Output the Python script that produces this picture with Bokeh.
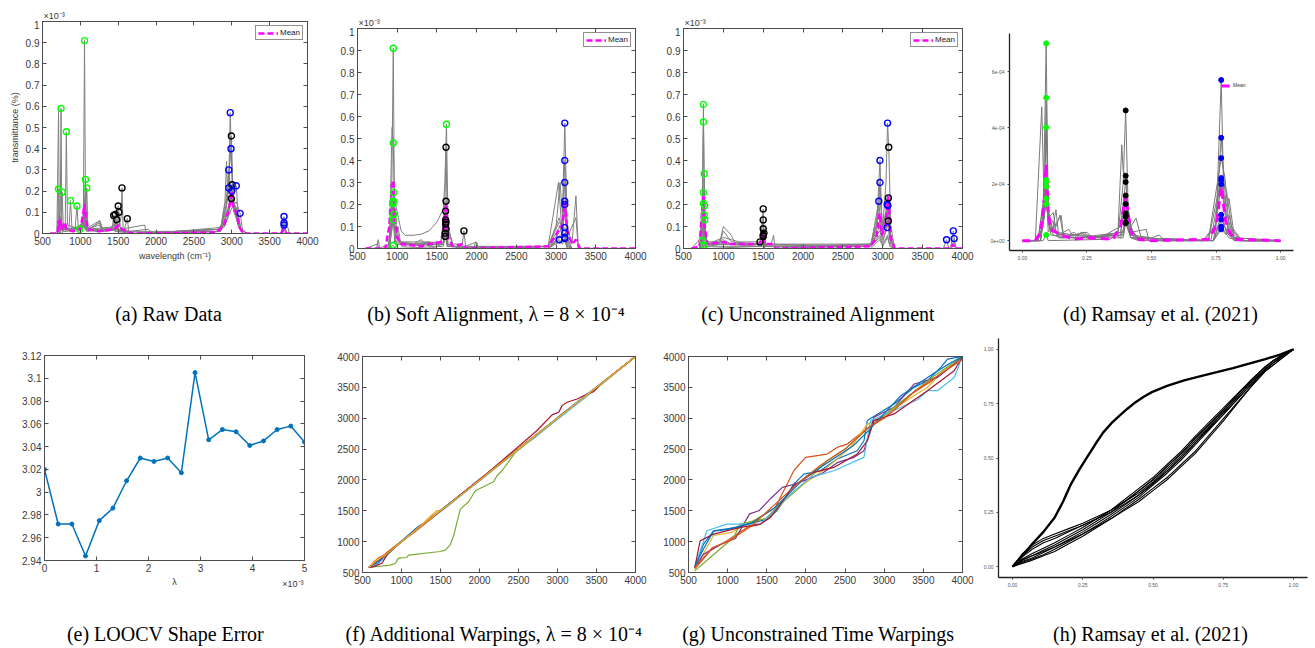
from bokeh.plotting import figure
from bokeh.layouts import column, row
from bokeh.models import (Range1d, FixedTicker, NumeralTickFormatter, LinearAxis,
                          Label, Legend, LegendItem)
from bokeh.embed import file_html
from bokeh.resources import INLINE

# ---------------- data ----------------
# (a) raw spectra, y in units of 1e-3
A_C1 = [(600,0),(1000,0),(1040,0.1),(1055,0.91),(1068,0.12),(1100,0.02),(1300,0.02),(1420,0.02),(1440,0.085),(1455,0.01),(1700,0),(2850,0.02),(2920,0.1),(2960,0.25),(2980,0.57),(3010,0.15),(3060,0.12),(3100,0.03),(3150,0),(4000,0)]
A_C2 = [(600,0),(690,0),(712,0.58),(722,0.05),(735,0.1),(745,0.59),(755,0.05),(800,0.02),(1000,0.03),(1050,0.1),(1070,0.02),(1250,0.06),(1300,0.02),(1440,0.03),(1460,0.09),(1475,0.02),(1700,0),(2850,0.01),(2940,0.2),(2990,0.40),(3030,0.1),(3150,0),(3650,0),(3690,0.03),(3720,0),(4000,0)]
A_C3 = [(600,0),(760,0),(780,0.05),(800,0.02),(815,0.48),(830,0.04),(1000,0.02),(1050,0.08),(1080,0.02),(1400,0.03),(1480,0.05),(1500,0.13),(1520,0.03),(1700,0),(2850,0.02),(2910,0.15),(2930,0.34),(2945,0.2),(2960,0.30),(3000,0.15),(3050,0.1),(3100,0.03),(3200,0),(4000,0)]
A_C4 = [(600,0),(720,0),(740,0.08),(760,0.02),(1040,0.03),(1068,0.255),(1085,0.03),(1200,0.01),(1500,0.02),(1540,0.08),(1550,0.215),(1565,0.02),(1700,0),(2850,0.02),(2920,0.12),(2960,0.215),(3000,0.15),(3050,0.12),(3100,0.03),(3200,0),(4000,0)]
A_C5 = [(600,0),(720,0),(740,0.06),(760,0.02),(1050,0.03),(1085,0.215),(1100,0.02),(1250,0.05),(1300,0.01),(1490,0.03),(1510,0.1),(1530,0.02),(1850,0.04),(1870,0),(2850,0.01),(2940,0.1),(3000,0.15),(3060,0.225),(3080,0.1),(3120,0.02),(3200,0),(4000,0)]
A_C6 = [(600,0),(700,0),(712,0.21),(725,0.02),(800,0.01),(1000,0.02),(1050,0.05),(1080,0.01),(1400,0.02),(1460,0.05),(1500,0.02),(1700,0),(2850,0.02),(2940,0.15),(2995,0.46),(3020,0.15),(3080,0.1),(3120,0.02),(3200,0),(3650,0),(3690,0.08),(3720,0),(4000,0)]
A_C7 = [(600,0),(740,0),(760,0.195),(775,0.03),(900,0.02),(1040,0.05),(1060,0.1),(1080,0.03),(1200,0.01),(1460,0.02),(1480,0.065),(1500,0.02),(1700,0),(2800,0.01),(2900,0.06),(2950,0.12),(3000,0.20),(3040,0.12),(3080,0.05),(3150,0),(4000,0)]
A_C8 = [(600,0),(720,0),(740,0.05),(760,0.02),(850,0.02),(870,0.155),(890,0.02),(1000,0.02),(1060,0.12),(1090,0.02),(1250,0.04),(1300,0.01),(1600,0.02),(1640,0),(2850,0.01),(2950,0.1),(3005,0.23),(3040,0.12),(3080,0.04),(3150,0),(3650,0),(3690,0.05),(3720,0),(4000,0)]
A_C9 = [(600,0),(700,0),(720,0.1),(740,0.02),(930,0.02),(955,0.13),(975,0.02),(1040,0.05),(1060,0.02),(1580,0.02),(1620,0.07),(1640,0.01),(1900,0.02),(1950,0),(2900,0.03),(3000,0.12),(3060,0.15),(3110,0.095),(3140,0.02),(3200,0),(4000,0)]
A_C10 = [(600,0),(720,0),(750,0.04),(780,0.01),(990,0.02),(1050,0.04),(1100,0.01),(1260,0.06),(1290,0.02),(1450,0.02),(1480,0.03),(1500,0.01),(2850,0.01),(2950,0.08),(2995,0.165),(3030,0.1),(3080,0.05),(3150,0),(3650,0),(3690,0.04),(3740,0.03),(3760,0),(4000,0)]
A_MEAN = [(600,0),(700,0),(712,0.06),(725,0.03),(735,0.07),(750,0.02),(800,0.05),(815,0.02),(900,0.01),(1000,0.02),(1040,0.1),(1055,0.14),(1070,0.08),(1100,0.02),(1250,0.01),(1440,0.02),(1480,0.03),(1500,0.04),(1550,0.02),(1600,0.01),(1700,0),(2800,0.005),(2900,0.04),(2950,0.1),(2980,0.15),(3000,0.2),(3020,0.12),(3060,0.1),(3100,0.03),(3150,0),(3650,0),(3690,0.02),(3720,0),(4000,0)]
A_GX = [1055,745,815,1068,1085,712,760,870,955,990]
A_GY = [0.91,0.59,0.48,0.255,0.215,0.21,0.195,0.155,0.13,0.02]
A_KX = [1440,1460,1500,1550,1510,2995,1480,3005,1620,2995]
A_KY = [0.085,0.09,0.13,0.215,0.1,0.46,0.065,0.23,0.07,0.165]
A_BX = [2980,2990,2960,2960,3060,3690,3000,3690,3110,3690]
A_BY = [0.57,0.40,0.30,0.215,0.225,0.08,0.20,0.05,0.095,0.04]

# (b) soft alignment
B_C1 = [(600,0),(900,0),(930,0.2),(950,0.91),(965,0.2),(1000,0.05),(1050,0.02),(1550,0.02),(1600,0.2),(1615,0.46),(1630,0.1),(1700,0.01),(2900,0.01),(3000,0.1),(3050,0.3),(3080,0.15),(3110,0.57),(3140,0.1),(3200,0.02),(3250,0.24),(3280,0),(4000,0)]
B_C2 = [(600,0),(740,0),(760,0.04),(780,0),(900,0),(935,0.55),(950,0.48),(970,0.1),(1000,0.1),(1020,0.03),(1100,0.02),(1550,0.03),(1615,0.215),(1640,0.02),(1800,0),(2900,0.01),(3040,0.12),(3080,0.1),(3110,0.40),(3140,0.05),(3250,0.14),(3280,0),(4000,0)]
B_C3 = [(600,0),(880,0),(920,0.1),(950,0.22),(980,0.2),(1050,0.08),(1100,0.06),(1200,0.06),(1300,0.065),(1400,0.08),(1500,0.12),(1580,0.18),(1600,0.3),(1620,0.565),(1640,0.1),(1700,0.02),(1820,0.02),(1840,0.08),(1860,0.01),(2000,0.03),(2020,0),(2900,0.01),(3030,0.3),(3070,0.1),(3110,0.30),(3140,0.05),(3200,0),(4000,0)]
B_C4 = [(600,0),(880,0),(930,0.1),(955,0.255),(975,0.05),(1010,0.1),(1040,0.03),(1200,0.02),(1300,0.04),(1400,0.01),(1580,0.03),(1610,0.17),(1630,0.02),(1800,0),(2900,0.01),(3040,0.14),(3080,0.08),(3110,0.215),(3140,0.03),(3200,0),(4000,0)]
B_C5 = [(600,0),(750,0.02),(770,0),(900,0.02),(950,0.215),(970,0.05),(1050,0.03),(1400,0.03),(1420,0),(1580,0.02),(1610,0.13),(1630,0.02),(1800,0),(2900,0.01),(3050,0.1),(3080,0.05),(3110,0.20),(3140,0.04),(3200,0),(4000,0)]
B_C6 = [(600,0),(900,0),(955,0.21),(975,0.03),(1300,0.02),(1400,0.03),(1580,0.02),(1615,0.12),(1635,0.01),(2900,0),(3050,0.08),(3110,0.095),(3140,0.02),(3200,0),(4000,0)]
B_C7 = [(600,0),(900,0),(945,0.205),(970,0.02),(1020,0.05),(1060,0.01),(1580,0.02),(1610,0.11),(1630,0.01),(2900,0),(3050,0.06),(3110,0.07),(3140,0.01),(3200,0),(4000,0)]
B_C8 = [(600,0),(900,0),(955,0.155),(975,0.02),(1580,0.02),(1615,0.09),(1635,0.01),(1960,0),(1990,0.03),(2010,0),(2900,0),(3050,0.05),(3110,0.05),(3140,0.01),(3200,0),(4000,0)]
B_C9 = [(600,0),(900,0),(950,0.13),(975,0.02),(1580,0.02),(1605,0.07),(1630,0.01),(2900,0),(3040,0.04),(3080,0.02),(3110,0.04),(3140,0),(4000,0)]
B_C10 = [(600,0),(900,0),(950,0.015),(975,0),(1580,0.01),(1605,0.055),(1630,0.01),(2900,0),(3110,0.045),(3140,0),(4000,0)]
B_MEAN = [(600,0),(850,0),(900,0.1),(930,0.28),(950,0.31),(970,0.15),(1000,0.05),(1050,0.02),(1300,0.01),(1400,0.02),(1550,0.03),(1590,0.1),(1615,0.2),(1640,0.05),(1700,0.01),(1840,0.02),(1860,0),(2900,0.01),(3000,0.06),(3050,0.1),(3080,0.1),(3110,0.21),(3140,0.08),(3200,0.02),(3250,0.04),(3300,0),(4000,0)]
B_GX = [950,950,1620,955,950,955,945,955,950,950]
B_GY = [0.91,0.48,0.565,0.255,0.215,0.21,0.205,0.155,0.13,0.015]
B_KX = [1615,1615,1840,1610,1610,1615,1610,1615,1605,1605]
B_KY = [0.46,0.215,0.08,0.17,0.13,0.12,0.11,0.09,0.07,0.055]
B_BX = [3110,3110,3110,3110,3110,3110,3110,3110,3040,3110]
B_BY = [0.57,0.40,0.30,0.215,0.20,0.095,0.07,0.05,0.04,0.045]

# (c) unconstrained alignment
C_C1 = [(600,0),(700,0),(735,0.2),(750,0.655),(765,0.1),(800,0.02),(950,0.02),(1000,0.1),(1100,0.06),(1150,0.02),(1450,0.02),(1500,0.04),(1550,0.01),(2850,0.02),(2920,0.1),(2965,0.25),(3000,0.1),(3040,0.3),(3060,0.57),(3075,0.46),(3100,0.1),(3150,0),(4000,0)]
C_C2 = [(600,0),(700,0),(735,0.15),(750,0.575),(765,0.1),(800,0.02),(950,0.02),(1000,0.08),(1100,0.03),(1460,0.02),(1500,0.18),(1515,0.02),(1600,0.02),(1630,0.06),(1650,0),(2850,0.02),(2930,0.15),(2965,0.40),(2990,0.1),(3040,0.15),(3070,0.2),(3100,0.05),(3150,0),(4000,0)]
C_C3 = [(600,0),(700,0.04),(720,0),(745,0.1),(760,0.34),(775,0.05),(800,0.02),(1000,0.05),(1100,0.04),(1200,0.03),(1460,0.03),(1500,0.13),(1520,0.02),(2850,0.02),(2930,0.12),(2965,0.30),(2990,0.08),(3040,0.1),(3070,0.15),(3100,0.03),(3150,0),(4000,0)]
C_C4 = [(600,0),(720,0),(750,0.255),(770,0.03),(900,0.03),(1000,0.04),(1100,0.02),(1460,0.02),(1500,0.09),(1520,0.02),(2850,0.01),(2950,0.215),(2980,0.08),(3040,0.1),(3070,0.15),(3100,0.03),(3150,0),(4000,0)]
C_C5 = [(600,0),(720,0),(750,0.205),(770,0.02),(1000,0.03),(1100,0.02),(1480,0.02),(1510,0.07),(1530,0.01),(2850,0.01),(2950,0.12),(2980,0.06),(3055,0.20),(3080,0.05),(3150,0),(4000,0)]
C_C6 = [(600,0),(740,0),(765,0.195),(780,0.02),(1000,0.02),(1480,0.02),(1500,0.06),(1520,0.01),(2850,0.01),(2960,0.1),(2990,0.05),(3065,0.195),(3090,0.04),(3150,0),(4000,0)]
C_C7 = [(600,0),(740,0),(760,0.15),(780,0.02),(1000,0.02),(1460,0.02),(1500,0.05),(1520,0.01),(2850,0.01),(2960,0.08),(3000,0.04),(3055,0.095),(3070,0.23),(3095,0.04),(3150,0),(4000,0)]
C_C8 = [(600,0),(740,0),(765,0.13),(780,0.01),(1000,0.02),(1460,0.01),(1500,0.04),(1520,0),(2850,0.01),(2960,0.06),(3000,0.03),(3070,0.125),(3095,0.02),(3150,0),(3760,0),(3800,0.04),(3830,0),(4000,0)]
C_C9 = [(600,0),(720,0),(740,0.035),(770,0.01),(1000,0.01),(1440,0.01),(1460,0.03),(1480,0.01),(2850,0.01),(2960,0.05),(3000,0.02),(3060,0.06),(3090,0.01),(3150,0),(3850,0),(3885,0.08),(3910,0),(4000,0)]
C_C10 = [(600,0),(740,0),(760,0.015),(780,0),(1480,0.01),(1500,0.055),(1520,0),(1950,0),(1970,0.02),(1990,0),(2850,0),(2960,0.04),(3000,0.01),(3060,0.05),(3090,0.01),(3150,0),(3860,0),(3895,0.045),(3920,0),(4000,0)]
C_MEAN = [(600,0),(700,0.01),(740,0.2),(750,0.25),(765,0.1),(800,0.02),(1000,0.03),(1100,0.02),(1450,0.02),(1480,0.04),(1500,0.07),(1520,0.02),(1600,0.02),(1650,0),(2850,0.01),(2920,0.05),(2960,0.16),(2990,0.06),(3030,0.1),(3070,0.24),(3100,0.05),(3150,0),(3850,0),(3880,0.02),(3900,0),(4000,0)]
C_GX = [750,750,760,750,750,765,760,765,740,760]
C_GY = [0.655,0.575,0.34,0.255,0.205,0.195,0.15,0.13,0.035,0.015]
C_KX = [3075,1500,1500,1500,1510,1500,3070,3070,1460,1500]
C_KY = [0.46,0.18,0.13,0.09,0.07,0.06,0.23,0.125,0.03,0.055]
C_BX = [3060,2965,2965,2950,3055,3065,3055,3800,3885,3895]
C_BY = [0.57,0.40,0.30,0.215,0.20,0.195,0.095,0.04,0.08,0.045]

# (d) Ramsay et al., x in [0,1], y in units of 1e-4
D_C1 = [(0,0),(0.06,0),(0.08,0.5),(0.092,7.0),(0.1,1.0),(0.12,0.3),(0.2,0.1),(0.37,0.2),(0.39,2.0),(0.40,4.62),(0.41,1.0),(0.43,0.1),(0.7,0),(0.75,0.5),(0.77,5.7),(0.78,1.5),(0.8,0.2),(0.85,0),(1,0)]
D_C2 = [(0,0),(0.05,0),(0.075,4.75),(0.085,1.0),(0.092,5.07),(0.1,0.8),(0.12,1.0),(0.13,0.3),(0.2,0.2),(0.3,0.1),(0.37,0.3),(0.385,3.4),(0.39,2.5),(0.40,2.3),(0.41,0.5),(0.45,0.1),(0.7,0),(0.75,0.6),(0.77,3.65),(0.79,1.0),(0.82,0),(1,0)]
D_C3 = [(0,0),(0.06,0),(0.085,1.5),(0.092,4.02),(0.1,1.2),(0.115,0.3),(0.13,1.1),(0.14,0.2),(0.25,0.2),(0.3,0.1),(0.38,0.5),(0.40,2.08),(0.42,0.3),(0.48,0.4),(0.49,0),(0.72,0),(0.77,2.93),(0.785,2.2),(0.8,0.5),(0.85,0),(1,0)]
D_C4 = [(0,0),(0.06,0),(0.092,2.15),(0.1,0.9),(0.13,0.5),(0.145,0.9),(0.16,0.1),(0.2,0.3),(0.22,0.1),(0.38,0.2),(0.40,1.6),(0.42,0.5),(0.44,0.8),(0.46,0.1),(0.72,0),(0.77,2.22),(0.79,1.8),(0.81,0.5),(0.85,0),(1,0)]
D_C5 = [(0,0),(0.06,0),(0.085,0.8),(0.092,2.12),(0.1,0.6),(0.12,0.2),(0.15,0.1),(0.25,0.3),(0.27,0.1),(0.38,0.3),(0.40,1.3),(0.42,0.2),(0.5,0.1),(0.53,0.2),(0.55,0),(0.73,0),(0.77,2.15),(0.79,1.2),(0.8,1.5),(0.82,0.2),(0.86,0),(1,0)]
D_C6 = [(0,0),(0.07,0),(0.092,1.92),(0.105,0.4),(0.14,0.2),(0.18,0.4),(0.2,0.1),(0.3,0.2),(0.39,0.3),(0.40,0.97),(0.42,0.2),(0.5,0),(0.74,0),(0.77,2.0),(0.79,0.6),(0.82,0.1),(1,0)]
D_C7 = [(0,0),(0.07,0),(0.092,1.5),(0.11,0.3),(0.15,0.9),(0.16,0.1),(0.24,0.3),(0.26,0.1),(0.39,0.3),(0.40,0.9),(0.43,0.3),(0.44,0.1),(0.74,0),(0.77,0.92),(0.79,0.3),(0.82,0),(1,0)]
D_C8 = [(0,0),(0.07,0),(0.092,1.3),(0.11,0.2),(0.2,0.1),(0.23,0.3),(0.25,0.1),(0.39,0.2),(0.40,0.85),(0.42,0.1),(0.74,0),(0.77,0.75),(0.8,0.2),(0.84,0),(1,0)]
D_C9 = [(0,0),(0.08,0),(0.092,0.2),(0.1,0),(0.34,0.05),(0.36,0.2),(0.38,0.1),(0.40,0.65),(0.42,0.1),(0.45,0),(0.74,0),(0.77,0.5),(0.8,0.1),(0.84,0),(1,0)]
D_C10 = [(0,0),(0.07,0),(0.092,2.1),(0.1,0.3),(0.12,0.5),(0.14,0.1),(0.39,0.1),(0.40,0.62),(0.42,0.1),(0.74,0),(0.77,0.4),(0.79,0.2),(0.8,0.9),(0.82,0.1),(1,0)]
D_MEAN = [(0,0),(0.05,0),(0.07,0.3),(0.085,1.5),(0.092,2.7),(0.1,1.0),(0.11,0.4),(0.13,0.3),(0.15,0.2),(0.2,0.05),(0.25,0.1),(0.35,0.05),(0.38,0.5),(0.40,1.6),(0.42,0.3),(0.45,0.05),(0.5,0),(0.72,0.05),(0.75,0.5),(0.77,1.9),(0.79,0.5),(0.82,0.05),(1,0)]
D_GX = [0.092]*10
D_GY = [7.0,5.07,4.02,2.15,2.12,1.92,1.5,1.3,0.2,2.1]
D_KX = [0.40]*10
D_KY = [4.62,2.3,2.08,1.6,1.3,0.97,0.9,0.85,0.65,0.62]
D_BX = [0.77]*10
D_BY = [5.7,3.65,2.93,2.22,2.15,2.0,0.92,0.75,0.5,0.4]
D_YTICK_LABELS = {0: "0e+00", 2: "2e-04", 4: "4e-04", 6: "6e-04"}

# (e) LOOCV shape error, lambda in units of 1e-3
LAMBDA = [0,0.263,0.526,0.789,1.053,1.316,1.579,1.842,2.105,2.368,2.632,2.895,3.158,3.421,3.684,3.947,4.211,4.474,4.737,5.0]
LOOCV = [3.020,2.972,2.972,2.944,2.975,2.986,3.010,3.030,3.027,3.030,3.017,3.105,3.046,3.055,3.053,3.041,3.045,3.055,3.058,3.044]

# matlab default colour order
MC = ["#0072BD", "#D95319", "#EDB120", "#7E2F8E", "#77AC30", "#4DBEEE", "#A2142F"]

# (f) additional warpings
F_W = [
 [(580,580),(640,620),(700,680),(760,740),(820,820),(1000,1010),(1200,1230),(1400,1400),(1600,1600),(2000,2000),(2400,2420),(2700,2680),(3000,3000),(3500,3500),(4000,4000)],
 [(580,580),(650,680),(720,750),(780,780),(850,860),(1000,1000),(1400,1420),(1500,1500),(2000,2000),(2500,2500),(3000,3000),(3500,3500),(4000,4000)],
 [(580,580),(640,650),(700,720),(780,760),(850,860),(1200,1200),(1400,1450),(1450,1500),(1500,1500),(2000,2000),(2500,2480),(3000,3000),(3500,3480),(4000,4000)],
 [(580,580),(700,650),(800,800),(1500,1500),(2000,2010),(2500,2500),(3000,2990),(4000,4000)],
 [(577,581),(855,619),(919,646),(962,732),(1069,743),(1090,781),(1497,840),(1561,862),(1625,949),(1668,1095),(1754,1527),(1861,1646),(1946,1824),(2182,1970),(2224,2068),(2289,2149),(2481,2484),(3000,3000),(3500,3500),(4000,4000)],
 [(580,580),(700,640),(800,760),(1000,1000),(1600,1580),(2500,2490),(2900,2880),(3300,3280),(4000,4000)],
 [(580,580),(650,600),(750,650),(820,800),(1000,1000),(1500,1500),(2000,2000),(2738,2801),(2930,3054),(3016,3097),(3059,3204),(3123,3258),(3251,3312),(3380,3392),(3465,3430),(3550,3550),(4000,4000)],
 [(580,580),(700,700),(1000,1000),(1500,1510),(2000,1990),(2500,2500),(3000,3010),(4000,4000)],
 [(580,580),(760,770),(1200,1190),(1700,1700),(2200,2200),(2600,2610),(3200,3200),(4000,4000)],
 [(580,580),(680,700),(800,790),(1300,1310),(1800,1790),(2300,2300),(2800,2800),(3600,3600),(4000,4000)],
]

# (g) unconstrained time warpings
G_W = [
 [(580,580),(692,959),(820,1176),(1119,1230),(1503,1365),(1631,1500),(1845,1932),(1973,2095),(2186,2149),(2399,2338),(2655,2473),(2741,2635),(2784,2962),(3125,3231),(3381,3500),(3552,3608),(3723,3823),(3808,3957),(4000,4000)],
 [(580,554),(777,851),(991,1014),(1247,1230),(1418,1284),(1588,1500),(1845,2149),(1994,2365),(2271,2419),(2399,2527),(2527,2581),(2800,2850),(3000,3000),(3300,3350),(3600,3600),(3800,3800),(4000,4000)],
 [(580,554),(820,1100),(1050,1150),(1204,1257),(1631,1554),(1973,1932),(2271,2203),(2570,2527),(2784,2900),(3000,3050),(3300,3300),(3552,3500),(3700,3700),(3850,3850),(4000,4000)],
 [(580,581),(692,797),(900,950),(1100,1050),(1280,1450),(1400,1500),(1550,1700),(1700,1880),(1850,1930),(2000,2000),(2200,2100),(2400,2280),(2612,2365),(2741,2473),(2869,3016),(3125,3177),(3381,3554),(3680,3661),(3894,3876),(4000,4000)],
 [(580,527),(777,743),(1076,1068),(1161,1284),(1546,1392),(1759,1716),(2058,2041),(2271,2311),(2527,2527),(2800,2850),(3200,3250),(3600,3650),(4000,4000)],
 [(580,581),(735,1176),(991,1284),(1418,1284),(1759,1716),(2058,2041),(2356,2149),(2741,2365),(2826,2962),(3125,3124),(3424,3300),(3552,3446),(3680,3446),(3894,3661),(4000,4000)],
 [(580,581),(649,1014),(820,1122),(1161,1230),(1418,1284),(1546,1392),(1845,1905),(2100,2122),(2356,2203),(2655,2419),(2784,2635),(2869,2962),(3125,3070),(3552,3446),(3894,3769),(4000,4000)],
 [(580,600),(700,900),(820,1170),(1000,1200),(1300,1300),(1600,1550),(2000,2050),(2300,2300),(2600,2550),(2800,2800),(3200,3350),(3600,3700),(3850,3900),(4000,4000)],
 [(580,580),(800,900),(1000,1000),(1300,1250),(1600,1600),(1900,1950),(2200,2250),(2500,2500),(2800,2850),(3100,3100),(3400,3450),(3700,3700),(4000,3950)],
]

# (h) Ramsay warping functions
H_UP_X = [0,0.035,0.069,0.11,0.15,0.18,0.208,0.237,0.265,0.294,0.323,0.352,0.381,0.41,0.438,0.467,0.496,0.55,0.611,0.67,0.727,0.785,0.842,0.9,0.95,1]
H_UP_Y = [0,0.05,0.103,0.16,0.226,0.30,0.38,0.445,0.503,0.562,0.618,0.66,0.695,0.728,0.757,0.782,0.803,0.832,0.857,0.877,0.895,0.914,0.934,0.955,0.975,1]
H_X = [0,0.035,0.07,0.11,0.15,0.2,0.25,0.3,0.35,0.4,0.45,0.5,0.55,0.6,0.65,0.7,0.75,0.8,0.85,0.9,0.93,0.97,1]
H_LOW = [
 [0,0.06,0.1,0.13,0.15,0.175,0.2,0.23,0.26,0.3,0.34,0.39,0.45,0.51,0.58,0.645,0.71,0.78,0.85,0.91,0.94,0.975,1],
 [0,0.05,0.09,0.12,0.14,0.165,0.19,0.22,0.25,0.29,0.33,0.38,0.44,0.5,0.57,0.64,0.71,0.78,0.85,0.91,0.94,0.975,1],
 [0,0.045,0.08,0.11,0.13,0.16,0.19,0.22,0.26,0.3,0.35,0.4,0.46,0.52,0.59,0.655,0.72,0.79,0.86,0.92,0.95,0.98,1],
 [0,0.035,0.06,0.085,0.11,0.145,0.18,0.22,0.26,0.31,0.36,0.41,0.47,0.53,0.60,0.665,0.73,0.795,0.86,0.92,0.95,0.98,1],
 [0,0.03,0.05,0.075,0.10,0.135,0.17,0.21,0.25,0.3,0.35,0.4,0.46,0.52,0.59,0.655,0.72,0.79,0.86,0.92,0.95,0.98,1],
 [0,0.025,0.04,0.065,0.09,0.125,0.16,0.2,0.24,0.285,0.33,0.385,0.44,0.5,0.57,0.635,0.70,0.77,0.84,0.91,0.94,0.975,1],
 [0,0.02,0.035,0.055,0.08,0.115,0.15,0.19,0.23,0.275,0.32,0.375,0.43,0.49,0.56,0.63,0.70,0.77,0.84,0.905,0.94,0.975,1],
 [0,0.015,0.03,0.05,0.07,0.105,0.14,0.18,0.22,0.265,0.31,0.36,0.41,0.47,0.53,0.605,0.68,0.755,0.83,0.9,0.93,0.97,1],
 [0,0.03,0.05,0.07,0.09,0.12,0.15,0.185,0.22,0.26,0.30,0.35,0.40,0.46,0.52,0.595,0.67,0.75,0.83,0.9,0.93,0.97,1],
]

CAPTIONS_TOP = ["(a) Raw Data", "(b) Soft Alignment, λ = 8 × 10⁻⁴",
                "(c) Unconstrained Alignment", "(d) Ramsay et al. (2021)"]
CAPTIONS_BOT = ["(e) LOOCV Shape Error", "(f) Additional Warpings, λ = 8 × 10⁻⁴",
                "(g) Unconstrained Time Warpings", "(h) Ramsay et al. (2021)"]
EXP_TEXT = "×10⁻³"

WAVE_TICKS = [500,1000,1500,2000,2500,3000,3500,4000]
TRANS_TICKS = [0,0.1,0.2,0.3,0.4,0.5,0.6,0.7,0.8,0.9,1]
LOOCV_TICKS = [2.94,2.96,2.98,3.0,3.02,3.04,3.06,3.08,3.1,3.12]
LAMBDA_TICKS = [0,1,2,3,4,5]
UNIT_TICKS = [0,0.25,0.5,0.75,1]
UNIT_LABELS = {0: "0.00", 0.25: "0.25", 0.5: "0.50", 0.75: "0.75", 1: "1.00"}

# ---------------- styling helpers ----------------
SANS = "Liberation Sans"
SERIF = "Liberation Serif"
AX = "#4d4d4d"
TXT = "#3a3a3a"
GRAY = "#808080"
MAG = "#FF00FF"


def xy(pts):
    return [p[0] for p in pts], [p[1] for p in pts]


def mk(w, h, l, r, t, b, xr, yr):
    p = figure(width=w, height=h, x_range=Range1d(*xr), y_range=Range1d(*yr),
               output_backend="svg", toolbar_location=None,
               min_border_left=l, min_border_right=r, min_border_top=t, min_border_bottom=b)
    p.grid.visible = False
    p.background_fill_color = "white"
    p.border_fill_color = "white"
    return p


def matlab(p, xt, yt, xfmt=None, yfmt=None, fs="10px"):
    p.outline_line_color = AX
    p.outline_line_width = 1
    for ax, ticks, fmt in ((p.below[0], xt, xfmt), (p.left[0], yt, yfmt)):
        ax.ticker = FixedTicker(ticks=ticks)
        if fmt is not None:
            ax.formatter = fmt
        ax.axis_line_color = AX
        ax.major_tick_line_color = AX
        ax.major_tick_in = 4
        ax.major_tick_out = 0
        ax.minor_tick_line_color = None
        ax.major_label_text_font = SANS
        ax.major_label_text_font_size = fs
        ax.major_label_text_color = TXT
        ax.major_label_standoff = 3
    # box ticks on the opposite sides (tick marks only, no labels drawn)
    for loc, ticks in (("right", yt), ("above", xt)):
        ax = LinearAxis(ticker=FixedTicker(ticks=ticks), major_label_text_color=None,
                        major_label_text_font_size="0px", major_label_standoff=0,
                        axis_line_color=AX, major_tick_line_color=AX,
                        major_tick_in=4, major_tick_out=0, minor_tick_line_color=None)
        p.add_layout(ax, loc)


def gg(p, xt, yt, xlab, ylab):
    p.outline_line_color = None
    for ax, ticks, labs in ((p.below[0], xt, xlab), (p.left[0], yt, ylab)):
        ax.ticker = FixedTicker(ticks=ticks)
        ax.major_label_overrides = labs
        ax.axis_line_color = "#222222"
        ax.axis_line_width = 1.3
        ax.major_tick_line_color = "#444444"
        ax.major_tick_in = 0
        ax.major_tick_out = 2
        ax.minor_tick_line_color = None
        ax.major_label_text_font = SANS
        ax.major_label_text_font_size = "5px"
        ax.major_label_text_color = "#555555"
        ax.major_label_standoff = 3


def spectrum(p, curves, mean, gx, gy, kx, ky, bx, by):
    for c in curves:
        x, y = xy(c)
        p.line(x, y, line_color=GRAY, line_width=1)
    mx, my = xy(mean)
    mr = p.line(mx, my, line_color=MAG, line_width=2.5, line_dash="6 3")
    for X, Y, col in ((gx, gy, "#00FF00"), (kx, ky, "black"), (bx, by, "#0000FF")):
        p.scatter(X, Y, marker="circle", size=6, fill_color=None, line_color=col, line_width=1.4)
    leg = Legend(items=[LegendItem(label="Mean", renderers=[mr])], location="top_right",
                 label_text_font=SANS, label_text_font_size="8px", label_text_color="#222222",
                 glyph_width=20, glyph_height=8, padding=2, spacing=0, margin=4,
                 label_standoff=2, label_height=8, border_line_color="#222222",
                 border_line_width=1, background_fill_color="white")
    p.add_layout(leg)


def strip(w, h, xr, items, font=SANS, size="9px", color=TXT):
    """A blank text strip; items are (x, y_px_from_bottom, text, align, x_offset)."""
    p = figure(width=w, height=h, x_range=Range1d(*xr), y_range=Range1d(0, h),
               output_backend="svg", toolbar_location=None, min_border=0)
    p.axis.visible = False
    p.grid.visible = False
    p.outline_line_color = None
    p.background_fill_color = "white"
    for x, y, t, al, xo in items:
        p.add_layout(Label(x=x, y=y, x_offset=xo, text=t, text_font=font, text_font_size=size,
                           text_color=color, text_align=al, text_baseline="middle"))
    return p


# ---------------- top row ----------------
pa = mk(330, 260, 42, 23, 1, 47, (500, 4000), (0, 1))
spectrum(pa, [A_C1, A_C2, A_C3, A_C4, A_C5, A_C6, A_C7, A_C8, A_C9, A_C10], A_MEAN,
         A_GX, A_GY, A_KX, A_KY, A_BX, A_BY)
matlab(pa, WAVE_TICKS, TRANS_TICKS, yfmt=NumeralTickFormatter(format="0.[0]"))
pa.below[0].axis_label = "wavelength (cm⁻¹)"
pa.left[0].axis_label = "transmittance (%)"
for ax in (pa.below[0], pa.left[0]):
    ax.axis_label_text_font = SANS
    ax.axis_label_text_font_size = "9px"
    ax.axis_label_text_font_style = "normal"
    ax.axis_label_text_color = TXT
    ax.axis_label_standoff = 3
# strips share the panel's x range (their frames line up with the panel below)
sa = strip(330, 20, (500, 4000), [(500, 5, EXP_TEXT, "left", 1)])

pb = mk(330, 253, 27, 25, 1, 32, (500, 4000), (0, 1))
spectrum(pb, [B_C1, B_C2, B_C3, B_C4, B_C5, B_C6, B_C7, B_C8, B_C9, B_C10], B_MEAN,
         B_GX, B_GY, B_KX, B_KY, B_BX, B_BY)
matlab(pb, WAVE_TICKS, TRANS_TICKS, yfmt=NumeralTickFormatter(format="0.[0]"))
sb = strip(330, 27, (500, 4000), [(500, 5, EXP_TEXT, "left", 1)])

pc = mk(320, 253, 23, 18, 1, 32, (500, 4000), (0, 1))
spectrum(pc, [C_C1, C_C2, C_C3, C_C4, C_C5, C_C6, C_C7, C_C8, C_C9, C_C10], C_MEAN,
         C_GX, C_GY, C_KX, C_KY, C_BX, C_BY)
matlab(pc, WAVE_TICKS, TRANS_TICKS, yfmt=NumeralTickFormatter(format="0.[0]"))
sc = strip(320, 27, (500, 4000), [(500, 5, EXP_TEXT, "left", 1)])

pd = mk(335, 280, 29, 22, 33, 30, (-0.05, 1.05), (-0.35, 7.35))
for c in [D_C1, D_C2, D_C3, D_C4, D_C5, D_C6, D_C7, D_C8, D_C9, D_C10]:
    x, y = xy(c)
    pd.line(x, y, line_color="#7a7a7a", line_width=1)
dmx, dmy = xy(D_MEAN)
dmr = pd.line(dmx, dmy, line_color=MAG, line_width=3, line_dash="8 5")
for X, Y, col in ((D_GX, D_GY, "#00FF00"), (D_KX, D_KY, "black"), (D_BX, D_BY, "#0000FF")):
    pd.scatter(X, Y, marker="circle", size=5, fill_color=col, line_color=col)
gg(pd, UNIT_TICKS, [0, 2, 4, 6], UNIT_LABELS, D_YTICK_LABELS)
dleg = Legend(items=[LegendItem(label="Mean", renderers=[dmr])], location=(212, 162),
              label_text_font=SANS, label_text_font_size="5px", label_text_color="#333333",
              glyph_width=9, glyph_height=5, padding=0, spacing=0, margin=0, label_standoff=3,
              label_height=5, border_line_color=None, background_fill_alpha=0)
pd.add_layout(dleg)

# ---------------- bottom row ----------------
pe = mk(330, 245, 44, 26, 25, 15, (0, 5), (2.94, 3.12))
pe.line(LAMBDA, LOOCV, line_color="#0072BD", line_width=1.5)
pe.scatter(LAMBDA, LOOCV, marker="circle", size=4, fill_color="#0072BD", line_color="#0072BD")
matlab(pe, LAMBDA_TICKS, LOOCV_TICKS, yfmt=NumeralTickFormatter(format="0.[00]"))
se = strip(330, 25, (0, 5), [(2.5, 19, "λ", "center", 0), (5, 17, EXP_TEXT, "right", -1)])

pf = mk(330, 270, 32, 25, 26, 28, (500, 4000), (500, 4000))
for i, c in enumerate(F_W):
    x, y = xy(c)
    pf.line(x, y, line_color=MC[i % 7], line_width=1.2)
matlab(pf, WAVE_TICKS, WAVE_TICKS)

pg = mk(320, 270, 28, 18, 26, 28, (500, 4000), (500, 4000))
for i, c in enumerate(G_W):
    x, y = xy(c)
    pg.line(x, y, line_color=MC[i % 7], line_width=1.2)
matlab(pg, WAVE_TICKS, WAVE_TICKS)

ph = mk(335, 270, 9, 8, 8, 23, (-0.05, 1.05), (-0.05, 1.05))
for yy in H_LOW:
    ph.line(H_X, yy, line_color="black", line_width=1.1)
ph.line(H_UP_X, H_UP_Y, line_color="black", line_width=2.4)
gg(ph, UNIT_TICKS, UNIT_TICKS, UNIT_LABELS, UNIT_LABELS)

# ---------------- captions ----------------
cap1 = strip(1315, 50, (0, 1315),
             [(168, 17, CAPTIONS_TOP[0], "center", 0), (496, 17, CAPTIONS_TOP[1], "center", 0),
              (818, 17, CAPTIONS_TOP[2], "center", 0), (1160, 17, CAPTIONS_TOP[3], "center", 0)],
             font=SERIF, size="20px", color="black")
cap2 = strip(1315, 48, (0, 1315),
             [(165, 15, CAPTIONS_BOT[0], "center", 0), (494, 15, CAPTIONS_BOT[1], "center", 0),
              (818, 15, CAPTIONS_BOT[2], "center", 0), (1150, 15, CAPTIONS_BOT[3], "center", 0)],
             font=SERIF, size="20px", color="black")

# every panel sits in its own column so that Bokeh does not align frames across a row
top = row(column(sa, pa), column(sb, pb), column(sc, pc), column(pd))
bottom = row(column(pe, se), column(pf), column(pg), column(ph))
layout = column(top, cap1, bottom, cap2)
open("out.html", "w").write(file_html(layout, INLINE))
